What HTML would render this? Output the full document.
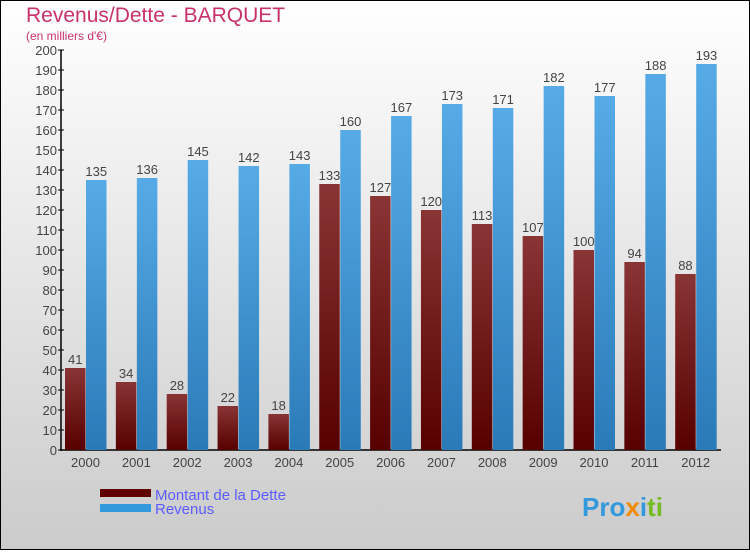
<!DOCTYPE html>
<html><head><meta charset="utf-8"><style>
body{margin:0;}
#c{width:750px;height:550px;position:relative;}
svg text{font-family:"Liberation Sans","DejaVu Sans",sans-serif;}
</style></head><body>
<div id="c">
<svg id="s" width="750" height="550" xmlns="http://www.w3.org/2000/svg">
<defs>
<linearGradient id="bg" x1="0" y1="0" x2="0" y2="1"><stop offset="0" stop-color="#ffffff"/><stop offset="1" stop-color="#cbcbcb"/></linearGradient>
<linearGradient id="gd" x1="0" y1="0" x2="0" y2="1"><stop offset="0" stop-color="#8a3535"/><stop offset="1" stop-color="#560000"/></linearGradient>
<linearGradient id="gr" x1="0" y1="0" x2="0" y2="1"><stop offset="0" stop-color="#56abe6"/><stop offset="1" stop-color="#2a7ab8"/></linearGradient>
</defs>
<rect x="0.5" y="0.5" width="749" height="549" fill="url(#bg)" stroke="#000"/>
<text x="26" y="22" font-size="21" fill="#c8326a">Revenus/Dette - BARQUET</text>
<text x="26" y="40" font-size="12" fill="#c8326a">(en milliers d'€)</text>
<g id="plot"></g>
<rect x="100" y="489" width="51" height="8" fill="#600000"/>
<text x="155" y="500" font-size="15" fill="#5b5bff">Montant de la Dette</text>
<rect x="100" y="504" width="51" height="8" fill="#3399dd"/>
<text x="155" y="514" font-size="15" fill="#5b5bff">Revenus</text>
<text x="582" y="516" font-size="26" font-weight="bold"><tspan fill="#3399dd">Pro</tspan><tspan fill="#f08a00">x</tspan><tspan fill="#3399dd">i</tspan><tspan fill="#77bb22">ti</tspan></text>
</svg>
</div>
<script>
const years=["2000","2001","2002","2003","2004","2005","2006","2007","2008","2009","2010","2011","2012"];
const dette=[41,34,28,22,18,133,127,120,113,107,100,94,88];
const revenus=[135,136,145,142,143,160,167,173,171,182,177,188,193];
const yTicks=[0,10,20,30,40,50,60,70,80,90,100,110,120,130,140,150,160,170,180,190,200];
const NS="http://www.w3.org/2000/svg";
const g=document.getElementById('plot');
const y0=450,yScale=2,x0=65,pitch=50.85,bw=20.5;
const Y=v=>y0-v*yScale;
function mk(t,a){const e=document.createElementNS(NS,t);for(const k in a)e.setAttribute(k,a[k]);g.appendChild(e);return e;}
let ax=mk('line',{x1:61,y1:Y(200),x2:61,y2:y0+1,stroke:'#000','stroke-width':1.5});


let xa=mk('line',{x1:61,y1:y0,x2:721,y2:y0,stroke:'#000','stroke-width':1.5});


yTicks.forEach(v=>{
 const t=mk('line',{x1:58,y1:Y(v),x2:64,y2:Y(v),stroke:'#000'});
 
 
 const l=mk('text',{x:57,y:Y(v)+5,'font-size':13,fill:'#444','text-anchor':'end'});
 l.textContent=v;
 
 
});
years.forEach((yr,i)=>{
 const gx=x0+i*pitch;
 const b1=mk('rect',{x:gx,y:Y(dette[i]),width:bw,height:dette[i]*yScale,fill:'url(#gd)'});
 
 
 const b2=mk('rect',{x:gx+bw+0.5,y:Y(revenus[i]),width:bw,height:revenus[i]*yScale,fill:'url(#gr)'});
 
 
 const t1=mk('text',{x:gx+bw/2,y:Y(dette[i])-4,'font-size':13,fill:'#444','text-anchor':'middle'});
 t1.textContent=dette[i];
 
 
 const t2=mk('text',{x:gx+bw*1.5+0.5,y:Y(revenus[i])-4,'font-size':13,fill:'#444','text-anchor':'middle'});
 t2.textContent=revenus[i];
 
 
 const xl=mk('text',{x:gx+bw,y:467,'font-size':13,fill:'#444','text-anchor':'middle'});
 xl.textContent=yr;
 
 
});
</script>
</body></html>
